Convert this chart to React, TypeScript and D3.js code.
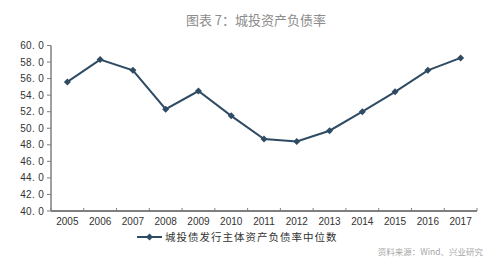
import React from "react";
import * as d3 from "d3";

const years = ["2005","2006","2007","2008","2009","2010","2011","2012","2013","2014","2015","2016","2017"];
const values = [55.6, 58.3, 57.0, 52.3, 54.5, 51.5, 48.7, 48.4, 49.7, 52.0, 54.4, 57.0, 58.5];
const yTicks = [40, 42, 44, 46, 48, 50, 52, 54, 56, 58, 60];
const title = "图表 7：城投资产负债率";
const seriesName = "城投债发行主体资产负债率中位数";
const source = "资料来源：Wind、兴业研究";

export default function App() {
  const W = 500, H = 266;
  const left = 51, right = 477, top = 45.5, bottom = 211;
  const x = d3.scaleBand<string>().domain(years).range([left, right]);
  const y = d3.scaleLinear().domain([40, 60]).range([bottom, top]);
  const line = d3.line<number>().x((_, i) => x(years[i])! + x.bandwidth() / 2).y(d => y(d));
  const color = "#2f4b63";
  const axisColor = "#7f7f7f";
  const diamond = (cx: number, cy: number, r: number) => `M${cx},${cy - r}L${cx + r},${cy}L${cx},${cy + r}L${cx - r},${cy}Z`;
  const boundaries = years.map((_, i) => left + i * x.step()).concat([right]);
  return (
    <svg width={W} height={H} style={{ position: "absolute", left: 0, top: 0, background: "#fff" }}>
      <rect width={W} height={H} fill="#fff" />
      <text x={256} y={25} textAnchor="middle" fontSize={13} fill="#8c8c8c" fontFamily="'Noto Sans CJK SC', sans-serif">{title}</text>
      <line x1={left} x2={left} y1={top} y2={bottom} stroke={axisColor} strokeWidth={1.5} />
      {yTicks.map(t => (
        <g key={t}>
          <line x1={left - 4} x2={left} y1={y(t)} y2={y(t)} stroke={axisColor} strokeWidth={1} />
          <text x={left - 7} y={y(t) + 3.5} textAnchor="end" fontSize={10} fill="#333" fontFamily="'Liberation Sans', Arial, sans-serif" letterSpacing={0.3}>{t.toFixed(1).replace(".", ". ")}</text>
        </g>
      ))}
      <line x1={left} x2={right} y1={bottom} y2={bottom} stroke={axisColor} strokeWidth={2} />
      {boundaries.map((b, i) => (
        <line key={i} x1={b} x2={b} y1={bottom} y2={bottom - 3} stroke={axisColor} strokeWidth={1} />
      ))}
      {years.map(yr => (
        <text key={yr} x={x(yr)! + x.bandwidth() / 2} y={225} textAnchor="middle" fontSize={10} fill="#333" fontFamily="'Liberation Sans', Arial, sans-serif">{yr}</text>
      ))}
      <path d={line(values) || ""} fill="none" stroke={color} strokeWidth={2} />
      {values.map((v, i) => (
        <path key={i} d={diamond(x(years[i])! + x.bandwidth() / 2, y(v), 3.5)} fill={color} />
      ))}
      <line x1={137} x2={162} y1={237} y2={237} stroke={color} strokeWidth={2} />
      <path d={diamond(149.5, 237, 3.5)} fill={color} />
      <text x={165} y={241} fontSize={10.5} fill="#333" fontFamily="'Noto Sans CJK SC', serif" letterSpacing={1}>{seriesName}</text>
      <text x={483} y={255} textAnchor="end" fontSize={8.5} fill="#a6a6a6" fontFamily="'Noto Sans CJK SC', sans-serif">{source}</text>
    </svg>
  );
}
